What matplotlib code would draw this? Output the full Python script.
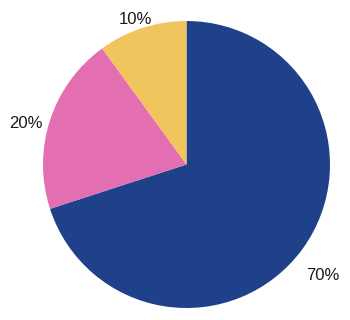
import numpy as np
import matplotlib.pyplot as plt

plt.rcParams['font.family'] = ['Liberation Sans', 'DejaVu Sans']

# data
shares = [70, 20, 10]
labels = ['70%', '20%', '10%']
colors = ['#1f4189', '#e36eb1', '#f1c55e']

# label placement (distance in radii, angle shift in degrees from wedge middle)
label_dist = [1.224, 1.153, 1.067]
label_shift = [-3.0, 3.8, 1.3]

fig = plt.figure(figsize=(3.5, 3.2), dpi=100)
ax = fig.add_axes([0, 0, 1, 1])

wedges, texts = ax.pie(shares, labels=labels, colors=colors, startangle=90,
                       counterclock=False, radius=1.0,
                       textprops=dict(fontsize=12, color='#1a1a1a'))

for w, t, d, s in zip(wedges, texts, label_dist, label_shift):
    mid = np.deg2rad((w.theta1 + w.theta2) / 2 + s)
    t.set_position((d * np.cos(mid), d * np.sin(mid)))
    t.set_ha('center')
    t.set_va('center')

ax.set_xlim(-186.5 / 143.5, (350 - 186.5) / 143.5)
ax.set_ylim(-(320 - 164.5) / 143.5, 164.5 / 143.5)
ax.axis('off')

fig.savefig('out.png', dpi=100, facecolor='white')
